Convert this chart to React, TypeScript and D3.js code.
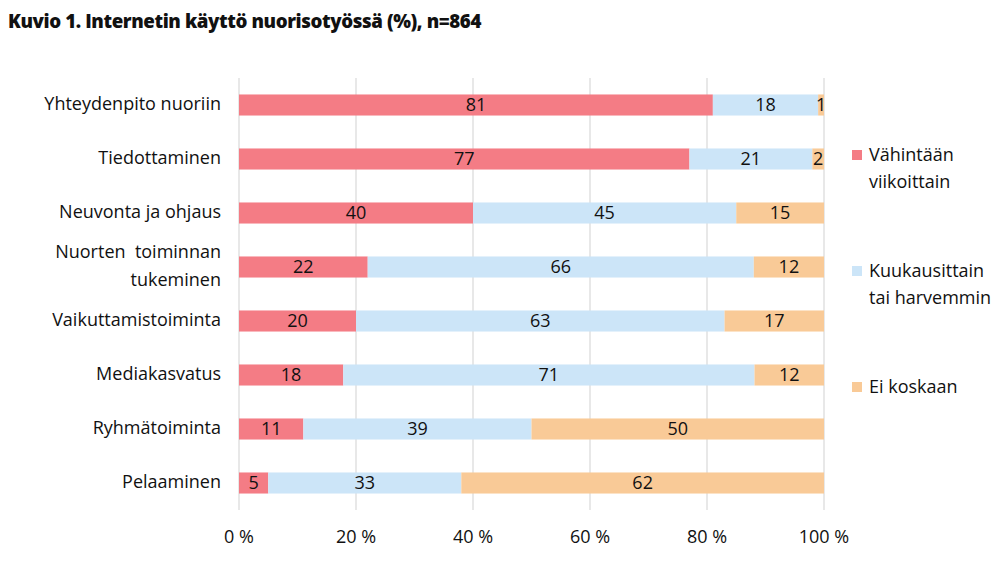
import React from "react";
import * as d3 from "d3";

const categories = [
  ["Yhteydenpito nuoriin"],
  ["Tiedottaminen"],
  ["Neuvonta ja ohjaus"],
  ["Nuorten  toiminnan", "tukeminen"],
  ["Vaikuttamistoiminta"],
  ["Mediakasvatus"],
  ["Ryhmätoiminta"],
  ["Pelaaminen"],
];
const weekly = [81, 77, 40, 22, 20, 18, 11, 5];
const monthly = [18, 21, 45, 66, 63, 71, 39, 33];
const never = [1, 2, 15, 12, 17, 12, 50, 62];
const seriesNames = [["Vähintään", "viikoittain"], ["Kuukausittain", "tai harvemmin"], ["Ei koskaan"]];
const colors = ["#F47C85", "#CCE5F8", "#F9CA97"];
const ticks = [0, 20, 40, 60, 80, 100];

const W = 1000, H = 570;
const left = 239, right = 824, top = 78, bottom = 510;
const font = "'Open Sans', sans-serif";
const fs = 18;

export default function App() {
  const x = d3.scaleLinear().domain([0, 100]).range([left, right]);
  const y = d3.scaleBand<number>().domain(d3.range(categories.length)).range([top, bottom]).paddingInner(0.61).paddingOuter(0.305);
  const series = [weekly, monthly, never];
  const rows = categories.map((_, i) => {
    const total = d3.sum(series, (s) => s[i]);
    let acc = 0;
    return series.map((s, k) => {
      const x0 = acc;
      acc += (s[i] / total) * 100;
      return { k, v: s[i], x0, x1: acc };
    });
  });
  const legendY = [[155, 182], [271, 298], [387]];
  return (
    <svg width={W} height={H} style={{ display: "block", position: "absolute", left: 0, top: 0, background: "#fff" }} fontFamily={font}>
      <text x={8} y={28} fontSize={18.7} fontWeight={800} fill="#111" letterSpacing={-0.4}>
        Kuvio 1. Internetin käyttö nuorisotyössä (%), n=864
      </text>
      {ticks.map((t) => (
        <line key={t} x1={x(t)} x2={x(t)} y1={top} y2={bottom} stroke="#d9d9d9" strokeWidth={1.2} />
      ))}
      {rows.map((segs, i) =>
        segs.map((s) => (
          <g key={i + "-" + s.k}>
            <rect x={x(s.x0)} y={y(i)!} width={x(s.x1) - x(s.x0)} height={y.bandwidth()} fill={colors[s.k]} />
            <text x={(x(s.x0) + x(s.x1)) / 2} y={y(i)! + y.bandwidth() / 2} dy="0.36em" textAnchor="middle" fontSize={fs} fill="#111">
              {s.v}
            </text>
          </g>
        ))
      )}
      {categories.map((c, i) => {
        const cy = y(i)! + y.bandwidth() / 2;
        return (
          <text key={i} x={221} textAnchor="end" fontSize={fs} fill="#111">
            {c.map((line, j) => (
              <tspan key={j} x={221} y={cy + (j - (c.length - 1) / 2) * 28 - 1} dy="0.36em" style={{ whiteSpace: "pre" }}>
                {line}
              </tspan>
            ))}
          </text>
        );
      })}
      {ticks.map((t) => (
        <text key={t} x={x(t)} y={537} dy="0.36em" textAnchor="middle" fontSize={fs} fill="#111">
          {t} %
        </text>
      ))}
      {seriesNames.map((n, k) => (
        <g key={k}>
          <rect x={852} y={legendY[k][0] - 5} width={10} height={10} fill={colors[k]} />
          {n.map((line, j) => (
            <text key={j} x={869} y={legendY[k][j]} dy="0.36em" fontSize={fs} fill="#111">
              {line}
            </text>
          ))}
        </g>
      ))}
    </svg>
  );
}
